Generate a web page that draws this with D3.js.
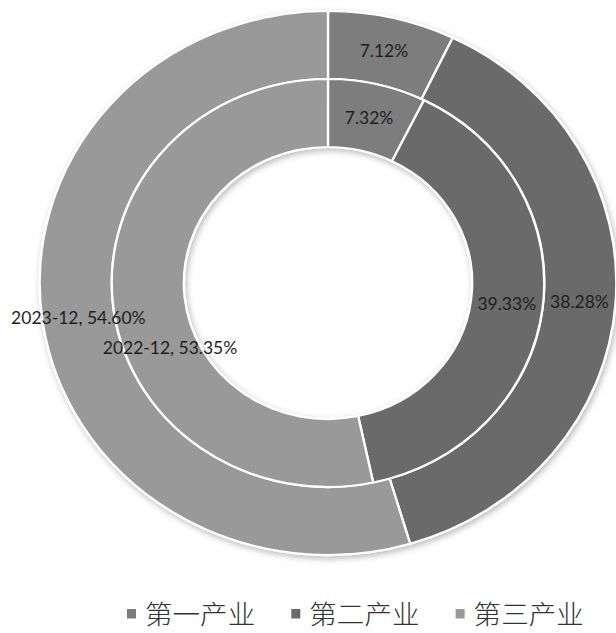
<!DOCTYPE html>
<html>
<head>
<meta charset="utf-8">
<script src="https://cdn.jsdelivr.net/npm/d3@7/dist/d3.min.js"></script>
<style>
  html, body { margin: 0; padding: 0; background: #fff; }
  svg { display: block; }
</style>
</head>
<body>
<svg id="chart" width="616" height="633"></svg>
<script>
// Industry structure, share of GDP (%)
const categories = ["第一产业", "第二产业", "第三产业"];
const periods = ["2023-12", "2022-12"];       // outer ring, inner ring
const values2023 = [7.12, 38.28, 54.60];
const values2022 = [7.32, 39.33, 53.35];
const colors = ["#7d7d7d", "#6a6a6a", "#999999"];

const W = 616, H = 633;
const cx = 328, cy = 283;
const stretchX = 1.06;          // chart drawn slightly wider than tall
const ringWidth = 68;
const rOuter = 272;

const svg = d3.select("#chart");

const defs = svg.append("defs");
const shadow = defs.append("filter").attr("id", "soft")
  .attr("x", "-10%").attr("y", "-10%").attr("width", "120%").attr("height", "120%");
shadow.append("feDropShadow")
  .attr("dx", 1.5).attr("dy", 2.5).attr("stdDeviation", 3)
  .attr("flood-color", "#000").attr("flood-opacity", 0.28);

const g = svg.append("g")
  .attr("transform", `translate(${cx},${cy}) scale(${stretchX},1)`);

const pie = d3.pie().sort(null).value(d => d);

const rings = [
  { period: periods[0], values: values2023, inner: rOuter - ringWidth, outer: rOuter },
  { period: periods[1], values: values2022, inner: rOuter - 2 * ringWidth, outer: rOuter - ringWidth }
];

const ringG = g.append("g").attr("filter", "url(#soft)");

rings.forEach(ring => {
  const arc = d3.arc().innerRadius(ring.inner).outerRadius(ring.outer);
  ringG.append("g").selectAll("path")
    .data(pie(ring.values))
    .join("path")
    .attr("d", arc)
    .attr("fill", (d, i) => colors[i])
    .attr("stroke", "#fff")
    .attr("stroke-width", 2.2)
    .attr("stroke-linejoin", "round");
});

// data labels at slice centroids; the long service-sector label of the inner ring is nudged down
rings.forEach((ring, ri) => {
  const arc = d3.arc().innerRadius(ring.inner).outerRadius(ring.outer);
  g.append("g").selectAll("text")
    .data(pie(ring.values))
    .join("text")
    .attr("transform", (d, i) => {
      const [x, y] = arc.centroid(d);
      const nudge = (ri === 1 && i === 2) ? [20, 47] : [0, 0];
      return `translate(${x + nudge[0]},${y + nudge[1]})`;
    })
    .attr("text-anchor", "middle")
    .attr("dominant-baseline", "central")
    .attr("font-family", "Lato, 'Open Sans', sans-serif")
    .attr("font-size", 16.5)
    .attr("fill", "#1e1e1e")
    .text((d, i) => i === 2
      ? `${ring.period}, ${d.data.toFixed(2)}%`
      : `${d.data.toFixed(2)}%`);
});

// legend
const legend = svg.append("g")
  .attr("transform", `translate(127,613) scale(${stretchX},1)`);
const item = legend.selectAll("g")
  .data(categories)
  .join("g")
  .attr("transform", (d, i) => `translate(${i * 155},0)`);
item.append("rect")
  .attr("x", 0).attr("y", -4)
  .attr("width", 8.5).attr("height", 9.5)
  .attr("fill", (d, i) => colors[i]);
item.append("text")
  .attr("x", 17)
  .attr("dominant-baseline", "central")
  .attr("font-family", "'Noto Sans CJK SC', sans-serif")
  .attr("font-weight", 300)
  .attr("font-size", 26)
  .attr("fill", "#333")
  .text(d => d);
</script>
</body>
</html>
